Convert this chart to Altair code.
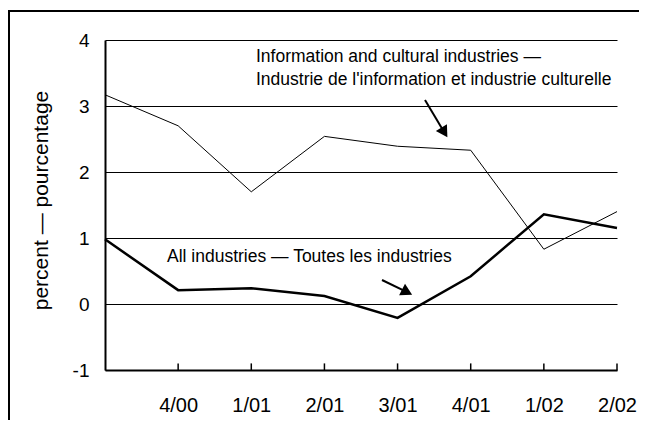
import altair as alt
import pandas as pd

FONT = "Liberation Sans"

# ---- data ----
quarters = ["3/00", "4/00", "1/01", "2/01", "3/01", "4/01", "1/02", "2/02"]
tick_labels = ["", "4/00", "1/01", "2/01", "3/01", "4/01", "1/02", "2/02"]
info_values = [3.17, 2.70, 1.70, 2.54, 2.39, 2.33, 0.83, 1.40]
all_values = [0.98, 0.21, 0.24, 0.12, -0.21, 0.42, 1.36, 1.15]

y_ticks = [-1, 0, 1, 2, 3, 4]

ann_text = [
    "Information and cultural industries —",
    "Industrie de l'information et industrie culturelle",
    "All industries — Toutes les industries",
]
ann_x = [2.064, 2.064, 0.848]
ann_y = [3.747, 3.394, 0.712]

arrow_id = ["info", "all"]
arrow_x0 = [4.375, 3.787]
arrow_y0 = [3.09, 0.364]
arrow_x1 = [4.64, 4.13]
arrow_y1 = [2.60, 0.18]
arrow_angle = [148, 117]

# ---- tables ----
idx = list(range(len(quarters)))
info_df = pd.DataFrame({"x": idx, "y": info_values, "q": quarters})
all_df = pd.DataFrame({"x": idx, "y": all_values, "q": quarters})
tick_df = pd.DataFrame({"x": idx[1:], "y": [-1.0] * (len(idx) - 1), "y2": [-0.9] * (len(idx) - 1)})
ann_df = pd.DataFrame({"x": ann_x, "y": ann_y, "label": ann_text})
shaft_df = pd.DataFrame({
    "x": arrow_x0 + arrow_x1,
    "y": arrow_y0 + arrow_y1,
    "arrow": arrow_id + arrow_id,
})
head_df = pd.DataFrame({"x": arrow_x1, "y": arrow_y1, "angle": arrow_angle})

label_expr = "[" + ",".join("'" + t + "'" for t in tick_labels) + "][datum.value]"

x_enc = alt.X(
    "x:Q",
    scale=alt.Scale(domain=[0, len(quarters) - 1], nice=False, zero=False),
    axis=alt.Axis(
        values=idx[1:], labelExpr=label_expr, ticks=False, tickSize=0, grid=False,
        domainWidth=2, domainColor="black", labelPadding=25, labelFontSize=20,
        labelBaseline="top", labelColor="black", labelFont=FONT, title=None,
        labelFlush=False, labelOverlap=False, labelBound=False,
    ),
)
y_enc = alt.Y(
    "y:Q",
    scale=alt.Scale(domain=[-1, 4], nice=False, zero=False),
    axis=alt.Axis(
        values=y_ticks, labelExpr="'' + datum.value", grid=True, gridColor="black",
        gridWidth=1, gridOpacity=1, ticks=False, tickSize=0, domainWidth=2,
        domainColor="black", labelPadding=16, labelFontSize=19, labelColor="black",
        labelFont=FONT, labelFlush=False, labelOverlap=False,
        title="percent — pourcentage", titleFontSize=21, titleFontWeight="normal",
        titleFont=FONT, titleColor="black", titleX=-64, titleY=160, titleAngle=270,
        titleAlign="center", titleBaseline="middle",
    ),
)

info_line = alt.Chart(info_df).mark_line(color="black", strokeWidth=1).encode(x=x_enc, y=y_enc)
all_line = alt.Chart(all_df).mark_line(color="black", strokeWidth=2.5).encode(
    x=alt.X("x:Q"), y=alt.Y("y:Q")
)
ticks = alt.Chart(tick_df).mark_rule(color="black", strokeWidth=1.5).encode(
    x=alt.X("x:Q"), y=alt.Y("y:Q"), y2="y2:Q"
)
ann = alt.Chart(ann_df).mark_text(
    align="left", baseline="middle", fontSize=17.5, font=FONT, color="black"
).encode(x=alt.X("x:Q"), y=alt.Y("y:Q"), text="label:N")
shafts = alt.Chart(shaft_df).mark_line(color="black", strokeWidth=2).encode(
    x=alt.X("x:Q"), y=alt.Y("y:Q"), detail="arrow:N"
)
heads = alt.Chart(head_df).mark_point(
    shape="triangle-up", filled=True, color="black", size=170, opacity=1
).encode(x=alt.X("x:Q"), y=alt.Y("y:Q"), angle=alt.Angle("angle:Q", scale=None))

# outer frame: only its left and top edges fall inside the picture
one = pd.DataFrame({"k": [0]})
frame_left = alt.Chart(one).mark_rule(color="black", strokeWidth=2).encode(
    x=alt.value(-96), y=alt.value(-30), y2=alt.value(700)
)
frame_top = alt.Chart(one).mark_rule(color="black", strokeWidth=2).encode(
    x=alt.value(-97), x2=alt.value(700), y=alt.value(-29)
)

chart = alt.layer(
    frame_left, frame_top, info_line, all_line, ticks, ann, shafts, heads
).properties(
    width=512,
    height=330,
    autosize=alt.AutoSizeParams(type="none"),
    padding={"left": 97, "top": 32, "right": 22, "bottom": 50},
    background="white",
).configure_view(stroke=None)

chart.save("out.html", embed_options={"renderer": "svg", "actions": False})
